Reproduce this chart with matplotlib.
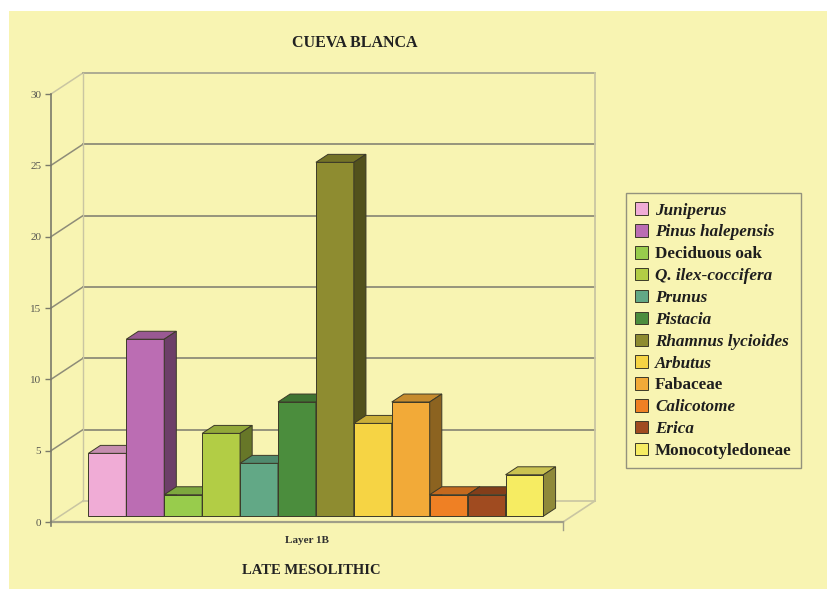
import matplotlib.pyplot as plt
import matplotlib.colors as mcolors
from matplotlib.patches import Polygon, Patch, Rectangle
import numpy as np

# data
taxa = ['Juniperus', 'Pinus halepensis', 'Deciduous oak', 'Q. ilex-coccifera',
        'Prunus', 'Pistacia', 'Rhamnus lycioides', 'Arbutus', 'Fabaceae',
        'Calicotome', 'Erica', 'Monocotyledoneae']
values = [4.4, 12.4, 1.5, 5.8, 3.7, 8.0, 24.8, 6.5, 8.0, 1.5, 1.5, 2.9]
italic = [True, True, False, True, True, True, True, True, False, True, True, False]
colors = ['#f0acd6', '#bb6db3', '#98cc4c', '#b2cd45', '#62a886', '#4b8d3d',
          '#8e8c30', '#f6d444', '#f2aa38', '#ef8024', '#a04b20', '#f6ec62']
layer = 'Layer 1B'

bg = '#f8f4b2'
grid_c = '#8e8c78'
edge_c = '#c9c5a2'
serif = ['Liberation Serif', 'DejaVu Serif']

# pseudo 3d geometry (depth offsets in data units)
n = len(values)
margin = 0.75
xmax = n + 2 * margin
DX, DY = 0.84, 1.47
f0, f1 = 0.28, 0.66
ymax = 30

fig = plt.figure(figsize=(8.28, 5.89), dpi=100)
fig.patch.set_facecolor('white')
fig.patches.append(Rectangle((9 / 828, 0), 1, 1 - 11 / 589, transform=fig.transFigure,
                             facecolor=bg, edgecolor='none', zorder=-10))

ax = fig.add_axes([51 / 828, (589 - 522) / 589, 512 / 828, 428 / 589])
ax.set_facecolor('none')
ax.set_xlim(0, xmax)
ax.set_ylim(0, ymax)
for s in ['top', 'right', 'bottom']:
    ax.spines[s].set_visible(False)
ax.spines['left'].set_color('#7a7a6a')
ax.spines['left'].set_linewidth(1.2)
ax.spines['left'].set_bounds(-0.3, ymax)
ax.set_xticks([])
ax.set_yticks(np.arange(0, 31, 5))
ax.tick_params(axis='y', length=4, width=1, color='#7a7a6a', pad=3,
               labelsize=8, labelcolor='#555550')
for t in ax.get_yticklabels():
    t.set_family(serif)

# walls and floor
yt = np.arange(0, 31, 5)
for v in yt:
    c = grid_c if 0 < v < ymax else edge_c
    ax.plot([0, DX], [v, v + DY], color=c, lw=1.1, zorder=1, clip_on=False)
    if v > 0:
        ax.plot([DX, xmax + DX], [v + DY, v + DY], color=grid_c if v < ymax else '#a8a690',
                lw=1.3, zorder=1, clip_on=False)
ax.plot([DX, DX], [DY, ymax + DY], color=edge_c, lw=1, zorder=1, clip_on=False)
ax.plot([xmax + DX, xmax + DX], [DY, ymax + DY], color=edge_c, lw=1.3, zorder=1, clip_on=False)
ax.plot([DX, xmax + DX], [DY, DY], color=edge_c, lw=1.2, zorder=1, clip_on=False)
ax.plot([xmax, xmax + DX], [0, DY], color=edge_c, lw=1.2, zorder=1, clip_on=False)
ax.plot([0, xmax], [0, 0], color='#a09e88', lw=1.6, zorder=2, clip_on=False)
ax.plot([xmax, xmax], [0, -0.55], color='#a09e88', lw=1, zorder=2, clip_on=False)

# bars: front face via ax.bar, top and side faces as polygons
lefts = margin + np.arange(n) + f0 * DX
base = f0 * DY
ddx, ddy = (f1 - f0) * DX, (f1 - f0) * DY
for i, (x, v, c) in enumerate(zip(lefts, values, colors)):
    rgb = np.array(mcolors.to_rgb(c))
    top_c = rgb * 0.82
    side_c = rgb * 0.58
    z = 3 + i
    ax.bar(x, v, width=1, bottom=base, align='edge', color=c, edgecolor='#3c3a28',
           linewidth=0.7, zorder=z, clip_on=False)
    ax.add_patch(Polygon([(x, base + v), (x + 1, base + v), (x + 1 + ddx, base + v + ddy),
                          (x + ddx, base + v + ddy)], closed=True, facecolor=top_c,
                         edgecolor='#3c3a28', linewidth=0.7, zorder=z, clip_on=False))
    ax.add_patch(Polygon([(x + 1, base), (x + 1, base + v), (x + 1 + ddx, base + v + ddy),
                          (x + 1 + ddx, base + ddy)], closed=True, facecolor=side_c,
                         edgecolor='#3c3a28', linewidth=0.7, zorder=z, clip_on=False))

ax.text(xmax / 2, -1.3, layer, ha='center', va='center', fontsize=8, fontweight='bold',
        family=serif, color='#303030')

fig.text(0.429, 0.927, 'CUEVA BLANCA', ha='center', va='center', fontsize=11.5,
         fontweight='bold', family=serif, color='#222222')
fig.text(0.376, 0.032, 'LATE MESOLITHIC', ha='center', va='center', fontsize=10.5,
         fontweight='bold', family=serif, color='#222222')

handles = [Patch(facecolor=c, edgecolor='#3c3a28', linewidth=0.7) for c in colors]
leg = fig.legend(handles, taxa, loc='upper left', bbox_to_anchor=(626 / 828, 1 - 193 / 589),
                 borderaxespad=0, frameon=True, fancybox=False, facecolor=bg,
                 edgecolor='#7a7a70', handlelength=0.75, handleheight=0.75,
                 handletextpad=0.4, labelspacing=0.33, borderpad=0.55,
                 prop={'family': serif, 'weight': 'bold', 'size': 12.3})
leg.get_frame().set_linewidth(1)
for t, it in zip(leg.get_texts(), italic):
    if it:
        t.set_fontstyle('italic')
    t.set_color('#1e1e1e')

fig.savefig('out.png', dpi=100, facecolor=fig.get_facecolor())
